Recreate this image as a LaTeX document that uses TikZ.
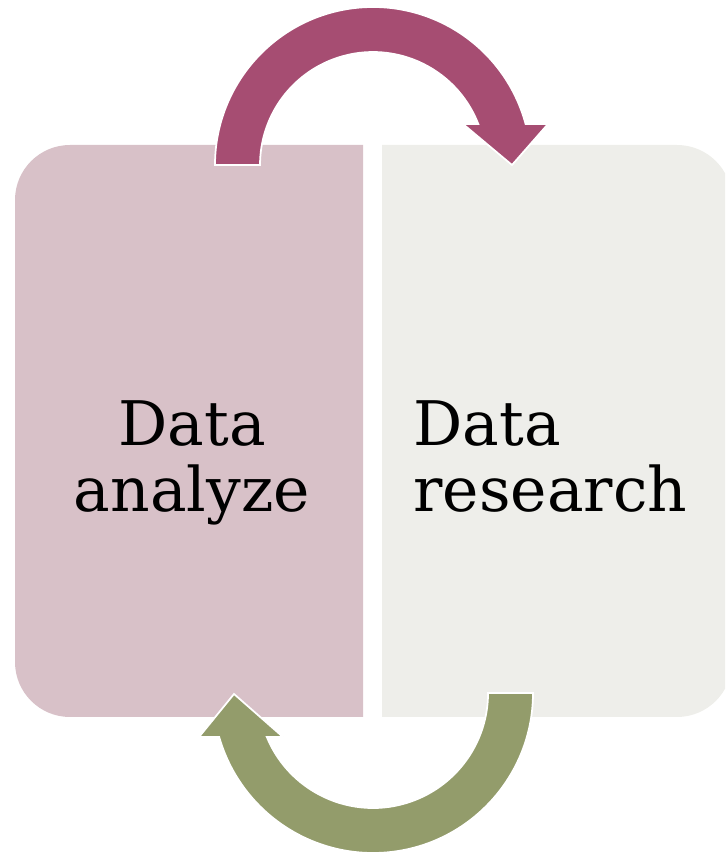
\documentclass[tikz,border=0pt]{standalone}
\definecolor{analyzeRose}{RGB}{216,193,200}
\definecolor{researchGrey}{RGB}{238,238,234}
\definecolor{loopPlum}{RGB}{166,77,114}
\definecolor{loopOlive}{RGB}{147,156,107}
\usepackage{fontspec}
\setmainfont{DejaVu Serif}
\usepackage{tikz}
\usetikzlibrary{positioning,calc}

\begin{document}
\begin{tikzpicture}[x=0.02cm,y=0.02cm,
    loopband/.style={draw=white, line width=1pt},
    boxlabel/.style={inner sep=0pt, font=\fontsize{35}{38}\selectfont}]
        % Canvas
        \clip (0,0) rectangle (725,855);
        % Analyze box (rounded on the left)
        \fill[analyzeRose] (363,710) -- (70,710) arc (90:180:55)
          -- (15,193) arc (180:270:55) -- (363,138) -- cycle;
        % Research box (rounded on the right)
        \fill[researchGrey] (382,710) -- (677,710) arc (90:0:55)
          -- (732,193) arc (0:-90:55) -- (382,138) -- cycle;
        % Upper arrow
        \fill[loopPlum, loopband] (215,690) arc (180:15.04:158)
          -- (548,731) -- (512,690) -- (463,731) -- (478.3,731)
          arc (21.3:180:113) -- cycle;
        % Lower arrow
        \fill[loopOlive, loopband] (533,162) arc (0:-164.04:160)
          -- (199,118) -- (234,161) -- (283,118) -- (266.8,118)
          arc (-157.5:0:115) -- cycle;
        % Labels
        \node[boxlabel, align=center, anchor=north] (analyze) at (192,455)
          {Data\\analyze};
        \node[boxlabel, align=left, anchor=north west] (research) at (413,455)
          {Data\\research};
      \end{tikzpicture}
\end{document}
